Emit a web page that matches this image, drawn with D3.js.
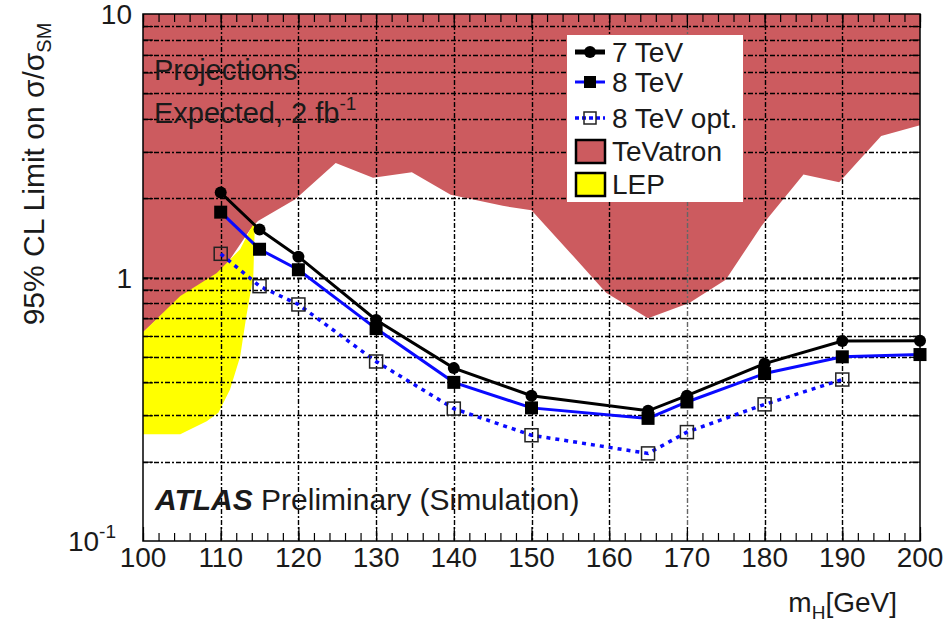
<!DOCTYPE html>
<html><head><meta charset="utf-8">
<script src="https://cdn.jsdelivr.net/npm/d3@7"></script>
<style>
html,body{margin:0;padding:0;background:#fff;}
svg{display:block;}
text{font-family:"Liberation Sans",Arial,Helvetica,sans-serif;fill:#1a1a1a;}
</style></head>
<body>
<svg id="chart" width="948" height="627"></svg>
<script>
// ---------- data ----------
const xTickValues = [100,110,120,130,140,150,160,170,180,190,200];
const yTickValues = [0.1, 1, 10];
const yTickLabels = [["10","-1"],["1",""],["10",""]];

const mass7 = [110,115,120,130,140,150,165,170,180,190,200];
const limit7 = [2.10,1.52,1.20,0.69,0.453,0.356,0.312,0.356,0.471,0.574,0.575];

const mass8 = [110,115,120,130,140,150,165,170,180,190,200];
const limit8 = [1.77,1.28,1.07,0.64,0.40,0.32,0.292,0.337,0.432,0.50,0.51];

const massOpt = [110,115,120,130,140,150,165,170,180,190];
const limitOpt = [1.23,0.927,0.79,0.48,0.318,0.252,0.215,0.259,0.330,0.41];

// TeVatron excluded region: lower boundary (region extends up to 10)
const tevMass  = [100,105,110,113.8,114.8,119.6,124.8,129.6,134.6,139.6,146.3,150,155,159.6,165,170.3,175,179.6,185,189.6,195,200];
const tevLimit = [0.62,0.85,1.04,1.52,1.64,1.98,2.72,2.39,2.51,2.06,1.87,1.80,1.24,0.875,0.70,0.80,0.98,1.57,2.46,2.30,3.44,3.78];

// LEP excluded region: polygon outline
const lepMass  = [100,104.8,109.5,112.5,113.8,114.4,114.2,113.3,112.5,111.2,109.7,108.2,104.8,100];
const lepLimit = [0.62,0.85,1.04,1.28,1.52,1.62,1.01,0.713,0.50,0.376,0.307,0.285,0.254,0.254];

const legendLabels = ["7 TeV","8 TeV","8 TeV opt.","TeVatron","LEP"];

// ---------- layout ----------
const L = 143, R = 920, T = 14, B = 541;
const svg = d3.select("#chart");
const x = d3.scaleLinear().domain([100,200]).range([L,R]);
const y = d3.scaleLog().domain([0.1,10]).range([B,T]);
const px = v => Math.round(v) + 0.5;

const red = "#cc5b5f", yellow = "#ffff00", blue = "#0a0aff";

svg.append("clipPath").attr("id","pc").append("rect")
  .attr("x",L).attr("y",T).attr("width",R-L).attr("height",B-T);
const g = svg.append("g").attr("clip-path","url(#pc)");

// TeVatron area
const tevData = tevMass.map((m,i)=>[m,tevLimit[i]]);
g.append("path")
  .datum(tevData)
  .attr("d", d3.area().x(d=>x(d[0])).y0(y(10)).y1(d=>y(d[1])))
  .attr("fill", red);

// LEP polygon
const lepData = lepMass.map((m,i)=>[m,lepLimit[i]]);
g.append("path")
  .attr("d", d3.line().x(d=>x(d[0])).y(d=>y(d[1]))(lepData) + "Z")
  .attr("fill", yellow);

// grid
const minorY = [];
[0.1,1].forEach(dec=>{ for(let k=2;k<=9;k++) minorY.push(dec*k); });
const dash = "5,2,2,2";
const grid = g.append("g");
grid.selectAll(".gy").data(minorY.concat([1])).enter().append("line")
  .attr("x1",L).attr("x2",R).attr("y1",d=>px(y(d))).attr("y2",d=>px(y(d)))
  .attr("stroke","#000").attr("stroke-width",d=>d===1?2.2:1.3).attr("stroke-dasharray",dash);
grid.selectAll(".gx").data(xTickValues.slice(1,-1)).enter().append("line")
  .attr("y1",T).attr("y2",B).attr("x1",d=>px(x(d))).attr("x2",d=>px(x(d)))
  .attr("stroke",d=>d===170?"#666":"#000").attr("stroke-width",1.4).attr("stroke-dasharray",dash);

// axes ticks using d3 axes (inside ticks)
const minorX = d3.range(100,201,2);
const yMinorAll = minorY.concat([1]);
const axes = [
  [d3.axisTop(x).tickValues(minorX).tickSize(8), `translate(0,${B})`],
  [d3.axisBottom(x).tickValues(minorX).tickSize(8), `translate(0,${T})`],
  [d3.axisTop(x).tickValues(xTickValues).tickSize(14), `translate(0,${B})`],
  [d3.axisBottom(x).tickValues(xTickValues).tickSize(14), `translate(0,${T})`],
  [d3.axisRight(y).tickValues(yMinorAll).tickSize(10), `translate(${L},0)`],
  [d3.axisLeft(y).tickValues(yMinorAll).tickSize(10), `translate(${R},0)`]
];
axes.forEach(([ax,tr])=>{
  const a = svg.append("g").attr("transform",tr).call(ax.tickFormat(""));
  a.select(".domain").remove();
  a.selectAll("line").attr("stroke","#000").attr("stroke-width",1.2);
});

// frame
svg.append("rect").attr("x",L).attr("y",T).attr("width",R-L).attr("height",B-T)
  .attr("fill","none").attr("stroke","#000").attr("stroke-width",1.5);

// series lines
const line = d3.line().x(d=>x(d[0])).y(d=>y(d[1]));
const d7 = mass7.map((m,i)=>[m,limit7[i]]);
const d8 = mass8.map((m,i)=>[m,limit8[i]]);
const dO = massOpt.map((m,i)=>[m,limitOpt[i]]);

svg.append("path").datum(dO).attr("d",line).attr("fill","none")
  .attr("stroke",blue).attr("stroke-width",3.5).attr("stroke-dasharray","4,5");
svg.append("path").datum(d8).attr("d",line).attr("fill","none")
  .attr("stroke",blue).attr("stroke-width",3);
svg.append("path").datum(d7).attr("d",line).attr("fill","none")
  .attr("stroke","#000").attr("stroke-width",3);

svg.selectAll(".m7").data(d7).enter().append("circle")
  .attr("cx",d=>x(d[0])).attr("cy",d=>y(d[1])).attr("r",6).attr("fill","#000");
svg.selectAll(".m8").data(d8).enter().append("rect")
  .attr("x",d=>x(d[0])-6.5).attr("y",d=>y(d[1])-6.5).attr("width",13).attr("height",13).attr("fill","#000");
svg.selectAll(".mo").data(dO).enter().append("rect")
  .attr("x",d=>x(d[0])-6.5).attr("y",d=>y(d[1])-6.5).attr("width",13).attr("height",13)
  .attr("fill","none").attr("stroke","#222").attr("stroke-width",1.5);

// tick labels
svg.append("g").selectAll("text").data(xTickValues).enter().append("text")
  .attr("x",d=>x(d)).attr("y",567).attr("text-anchor","middle")
  .attr("font-size",28).text(d=>d);

const yl = svg.append("g").selectAll("text").data(yTickValues).enter().append("text")
  .attr("x",d=>d===0.1?116:132).attr("y",d=>y(d)+10).attr("text-anchor","end")
  .attr("font-size",28);
yl.append("tspan").text((d,i)=>yTickLabels[i][0]);
yl.filter(d=>d===0.1).append("tspan").attr("font-size",19).attr("dy",-13).text("-1");

// axis titles
const xt = svg.append("text").attr("x",897).attr("y",612).attr("text-anchor","end").attr("font-size",28);
xt.append("tspan").text("m");
xt.append("tspan").attr("font-size",19).attr("dy",7).text("H");
xt.append("tspan").attr("dy",-7).text("[GeV]");

const ytt = svg.append("text").attr("transform","translate(44,174) rotate(-90)")
  .attr("text-anchor","middle").attr("font-size",30);
ytt.append("tspan").text("95% CL Limit on σ/σ");
ytt.append("tspan").attr("font-size",20).attr("dy",7).text("SM");

// annotations
svg.append("text").attr("x",154).attr("y",80).attr("font-size",29).text("Projections");
const ex = svg.append("text").attr("x",154).attr("y",123).attr("font-size",29);
ex.append("tspan").text("Expected, 2 fb");
ex.append("tspan").attr("font-size",19).attr("dy",-13).text("-1");

const at = svg.append("text").attr("x",155).attr("y",510).attr("font-size",30);
at.append("tspan").attr("font-weight","bold").attr("font-style","italic").text("ATLAS");
at.append("tspan").text(" Preliminary (Simulation)");

// legend
const lg = svg.append("g");
lg.append("rect").attr("x",567).attr("y",35).attr("width",176).attr("height",167).attr("fill","#fff");
const rows = [52,82,118,151,184];
lg.selectAll("text").data(legendLabels).enter().append("text")
  .attr("x",612).attr("y",(d,i)=>rows[i]+10).attr("font-size",28).text(d=>d);
// 7 TeV
lg.append("line").attr("x1",575).attr("x2",605).attr("y1",rows[0]).attr("y2",rows[0]).attr("stroke","#000").attr("stroke-width",5);
lg.append("circle").attr("cx",590).attr("cy",rows[0]).attr("r",6).attr("fill","#000");
// 8 TeV
lg.append("line").attr("x1",575).attr("x2",605).attr("y1",rows[1]).attr("y2",rows[1]).attr("stroke",blue).attr("stroke-width",3);
lg.append("rect").attr("x",584).attr("y",rows[1]-6).attr("width",12).attr("height",12).attr("fill","#000");
// opt
lg.append("line").attr("x1",575).attr("x2",605).attr("y1",rows[2]).attr("y2",rows[2]).attr("stroke",blue).attr("stroke-width",3.5).attr("stroke-dasharray","4,3");
lg.append("rect").attr("x",584).attr("y",rows[2]-6).attr("width",12).attr("height",12).attr("fill","none").attr("stroke","#222").attr("stroke-width",1.5);
// TeVatron, LEP
lg.append("rect").attr("x",576).attr("y",rows[3]-11).attr("width",29).attr("height",23).attr("fill",red).attr("stroke","#000").attr("stroke-width",2.5);
lg.append("rect").attr("x",576).attr("y",rows[4]-11).attr("width",29).attr("height",23).attr("fill",yellow).attr("stroke","#000").attr("stroke-width",2.5);
</script>
</body></html>
